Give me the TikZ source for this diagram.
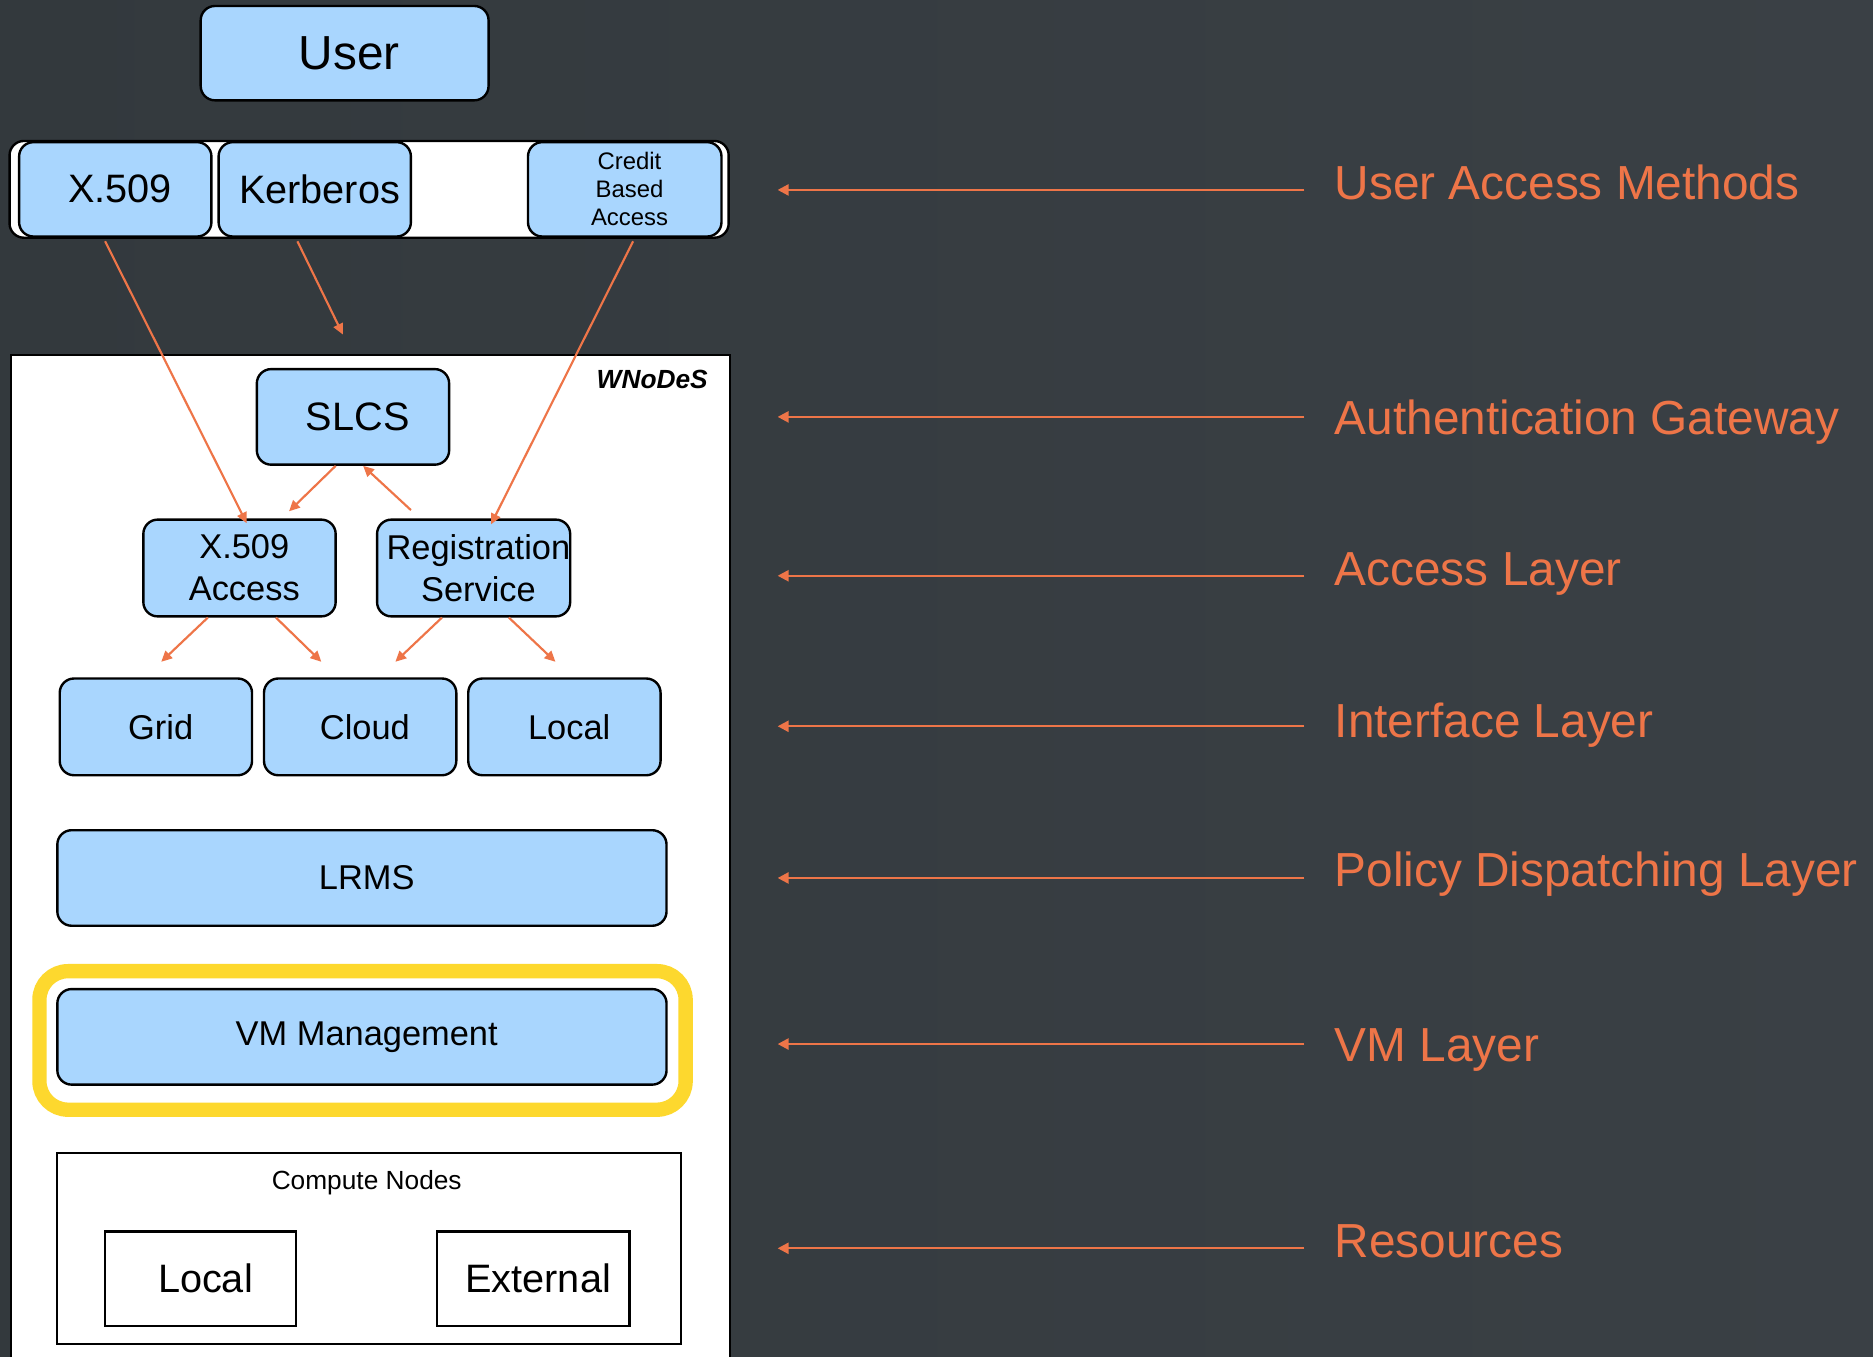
\documentclass[tikz,border=0pt]{standalone}
\usepackage{fontspec}
\setmainfont{Liberation Sans}
\usetikzlibrary{arrows.meta,calc}
\definecolor{bgl}{HTML}{33393D}
\definecolor{bgr}{HTML}{3A4045}
\definecolor{boxblue}{HTML}{A9D6FE}
\definecolor{orng}{HTML}{EE7548}
\definecolor{ylw}{HTML}{FDD82E}
\newcommand\txs{\hspace*{4pt}}
\begin{document}
\begin{tikzpicture}[x=0.5pt,y=-0.5pt,
  bluebox/.style={draw=black, line width=1pt, fill=boxblue, rounded corners=6pt, inner sep=0pt, align=center, text=black},
  plainbox/.style={draw=black, line width=0.9pt, fill=white, inner sep=0pt, align=center, text=black},
  big/.style={font=\fontsize{16.6}{19}\selectfont},
  mid/.style={font=\fontsize{14.4}{17.5}\selectfont},
  conn/.style={draw=orng, line width=0.9pt, -{Triangle[length=4.5pt,width=4.2pt]}},
  lyr/.style={draw=orng, line width=1pt, -{Triangle[length=4.6pt,width=4.6pt]}},
  lbl/.style={anchor=base west, text=orng, font=\fontsize{20}{24}\selectfont, inner sep=0pt},
]
\clip (0,0) rectangle (1568,1136);
\shade[left color=bgl, right color=bgr] (0,0) rectangle (1568,1136);

% top
\node[bluebox, minimum width=120.5pt, minimum height=39.5pt, font=\fontsize{20}{24}\selectfont] (user) at (288.5,44.5) {\txs User};
\node[draw=black, line width=1pt, fill=white, rounded corners=6pt, minimum width=301pt, minimum height=40.5pt, inner sep=0pt] (bar) at (309,158.5) {};
\node[bluebox, big, minimum width=80.5pt, minimum height=39.5pt] (x509) at (96.5,158.5) {\txs X.509};
\node[bluebox, big, minimum width=80.5pt, minimum height=39.5pt] (kerb) at (263.5,158.5) {\txs Kerberos};
\node[bluebox, font=\fontsize{10}{11.7}\selectfont, minimum width=81pt, minimum height=39.5pt] (credit) at (523,158.5) {\txs Credit\\\txs Based\\\txs Access};

% WNoDeS frame
\node[plainbox, line width=1pt, anchor=north west, minimum width=301pt, minimum height=440pt] (wnodes) at (8,296) {};
\node[font=\bfseries\itshape\fontsize{11}{13}\selectfont, text=black] (wlabel) at (546,318) {WNoDeS};

\node[bluebox, big, minimum width=80.5pt, minimum height=40pt] (slcs) at (295.5,349) {\txs SLCS};
\node[bluebox, mid, minimum width=80.5pt, minimum height=40.5pt] (xacc) at (200.5,475.5) {\txs X.509\\\txs Access};
\node[bluebox, mid, minimum width=80.5pt, minimum height=40.5pt] (reg) at (396.5,475.5) {\txs Registration\\\txs Service};

\node[bluebox, mid, minimum width=80.5pt, minimum height=40.5pt] (grid) at (130.5,608.5) {\txs Grid};
\node[bluebox, mid, minimum width=80.5pt, minimum height=40.5pt] (cloud) at (301.5,608.5) {\txs Cloud};
\node[bluebox, mid, minimum width=80.5pt, minimum height=40.5pt] (local) at (472.5,608.5) {\txs Local};

\node[bluebox, mid, minimum width=255pt, minimum height=40pt] (lrms) at (303,735) {\txs LRMS};
\node[draw=ylw, line width=6pt, rounded corners=12pt, minimum width=270.5pt, minimum height=58pt, inner sep=0pt] (hl) at (303.5,871) {};
\node[bluebox, mid, minimum width=255pt, minimum height=40pt] (vm) at (303,868) {\txs VM Management};

\node[plainbox, minimum width=261pt, minimum height=80pt] (compute) at (309,1045) {};
\node[font=\fontsize{11}{13}\selectfont, text=black] (ctitle) at (307,990) {Compute Nodes};
\node[plainbox, big, minimum width=80pt, minimum height=39.5pt] (clocal) at (168,1070.5) {\txs Local};
\node[plainbox, big, minimum width=80.5pt, minimum height=39.5pt] (cext) at (446.5,1070.5) {\txs External};

% connectors
\coordinate (kfree) at (287,280);
\draw[conn] ($(x509.south)+(-8.5,3)$) -- ($(xacc.north)+(6,4)$);
\draw[conn] ($(kerb.south)+(-14.5,3)$) -- (kfree);
\draw[conn] ($(credit.south)+(7,3)$) -- ($(reg.north)+(14.5,5)$);
\draw[conn] ($(slcs.south)+(-14.5,0)$) -- ($(xacc.north)+(41.5,-6)$);
\draw[conn] ($(reg.north)+(-52.5,-7)$) -- ($(slcs.south)+(8.5,0)$);
\draw[conn] ($(xacc.south)+(-26.5,0)$) -- ($(grid.north)+(4.5,-13)$);
\draw[conn] ($(xacc.south)+(30.5,0)$) -- ($(cloud.north)+(-32.5,-13)$);
\draw[conn] ($(reg.south)+(-26.5,0)$) -- ($(cloud.north)+(29.5,-13)$);
\draw[conn] ($(reg.south)+(29.5,0)$) -- ($(local.north)+(-7.5,-13)$);

% layer labels
\node[lbl] (l1) at (1117,167) {User Access Methods};
\node[lbl] (l2) at (1117,364) {Authentication Gateway};
\node[lbl] (l3) at (1117,490) {Access Layer};
\node[lbl] (l4) at (1117,617) {Interface Layer};
\node[lbl] (l5) at (1117,742.5) {Policy Dispatching Layer};
\node[lbl] (l6) at (1117,889) {VM Layer};
\node[lbl] (l7) at (1117,1053) {Resources};

\coordinate (r1) at (1092,159);  \coordinate (t1) at (651,159);
\coordinate (r2) at (1092,349);  \coordinate (t2) at (651,349);
\coordinate (r3) at (1092,482);  \coordinate (t3) at (651,482);
\coordinate (r4) at (1092,608);  \coordinate (t4) at (651,608);
\coordinate (r5) at (1092,735);  \coordinate (t5) at (651,735);
\coordinate (r6) at (1092,874);  \coordinate (t6) at (651,874);
\coordinate (r7) at (1092,1045); \coordinate (t7) at (651,1045);
\foreach \i in {1,...,7} \draw[lyr] (r\i) -- (t\i);
\end{tikzpicture}
\end{document}
